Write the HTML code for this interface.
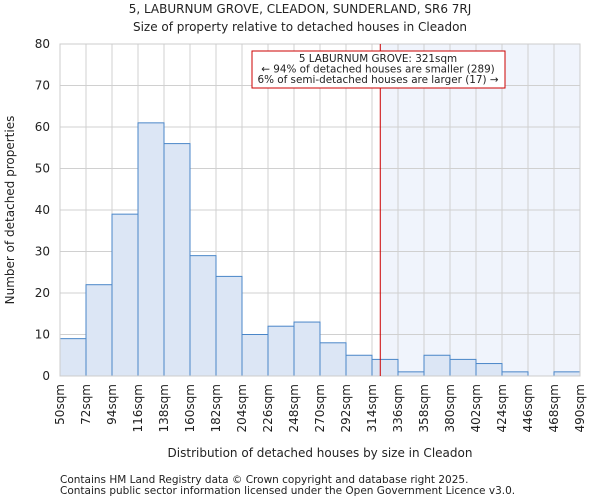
<!DOCTYPE html>
<html><head><meta charset="utf-8"><style>
body{margin:0;background:#fff;font-family:"DejaVu Sans","Liberation Sans",sans-serif}
svg text{font-family:"DejaVu Sans","Liberation Sans",sans-serif;fill:#222}
</style></head><body>
<svg id="c" width="600" height="500">
<text x="300" y="13" font-size="12" text-anchor="middle">5, LABURNUM GROVE, CLEADON, SUNDERLAND, SR6 7RJ</text>
<text x="300" y="31" font-size="12" text-anchor="middle">Size of property relative to detached houses in Cleadon</text>
<text x="14" y="210" font-size="12" text-anchor="middle" transform="rotate(-90 14 210)">Number of detached properties</text>
<text x="320" y="457" font-size="12" text-anchor="middle">Distribution of detached houses by size in Cleadon</text>
<text x="60" y="483" font-size="10.5" fill="#333">Contains HM Land Registry data © Crown copyright and database right 2025.</text>
<text x="60" y="494" font-size="10.5" fill="#333">Contains public sector information licensed under the Open Government Licence v3.0.</text>
<g id="plot"></g>
</svg>
<script>
const binStarts=[50,72,94,116,138,160,182,204,226,248,270,292,314,336,358,380,402,424,446,468];
const counts=[9,22,39,61,56,29,24,10,12,13,8,5,4,1,5,4,3,1,0,1];
const xTicks=[50,72,94,116,138,160,182,204,226,248,270,292,314,336,358,380,402,424,446,468,490];
const yTicks=[0,10,20,30,40,50,60,70,80];
const subjectSize=321;
const X0=60,X1=580,Y0=376,Y1=44;
const xs=v=>X0+(v-50)/(490-50)*(X1-X0);
const ys=v=>Y0-v/80*(Y0-Y1);
const NS="http://www.w3.org/2000/svg";
const g=document.getElementById('plot');
function mk(t,a){const e=document.createElementNS(NS,t);for(const k in a)e.setAttribute(k,a[k]);g.appendChild(e);return e;}
let sh=mk('rect',{x:xs(subjectSize),y:Y1,width:X1-xs(subjectSize),height:Y0-Y1,fill:'#f0f4fc'});


yTicks.forEach(t=>{
 let l=mk('line',{x1:X0,x2:X1,y1:ys(t),y2:ys(t),stroke:'#d0d0d0'});
 
 
 let tx=mk('text',{x:X0-10,y:ys(t)+4,'font-size':12,'text-anchor':'end'});tx.textContent=t;
 
 
});
xTicks.forEach(t=>{
 let l=mk('line',{x1:xs(t),x2:xs(t),y1:Y1,y2:Y0,stroke:'#d0d0d0'});
 
 
 let tx=mk('text',{x:xs(t)+4,y:Y0+8,'font-size':12,'text-anchor':'end',transform:`rotate(-90 ${xs(t)+4} ${Y0+8})`});tx.textContent=t+'sqm';
 
 
});
binStarts.forEach((b,i)=>{
 if(!counts[i])return;
 let r=mk('rect',{x:xs(b),y:ys(counts[i]),width:xs(b+22)-xs(b),height:Y0-ys(counts[i]),fill:'#dce6f5',stroke:'#4a86c8','stroke-width':1});
 
 
});
let ax=mk('rect',{x:X0,y:Y1,width:X1-X0,height:Y0-Y1,fill:'none',stroke:'#ccc'});


let rl=mk('line',{x1:xs(subjectSize),x2:xs(subjectSize),y1:Y1,y2:Y0,stroke:'#cc0000','stroke-width':1});


let bx=mk('rect',{x:252,y:51,width:253,height:37,fill:'#fff',stroke:'#cc0000'});


['5 LABURNUM GROVE: 321sqm','← 94% of detached houses are smaller (289)','6% of semi-detached houses are larger (17) →'].forEach((s,i)=>{
 let t=mk('text',{x:378,y:62+i*10.5,'font-size':10.4,'text-anchor':'middle'});t.textContent=s;
 
 
});
</script>
</body></html>
